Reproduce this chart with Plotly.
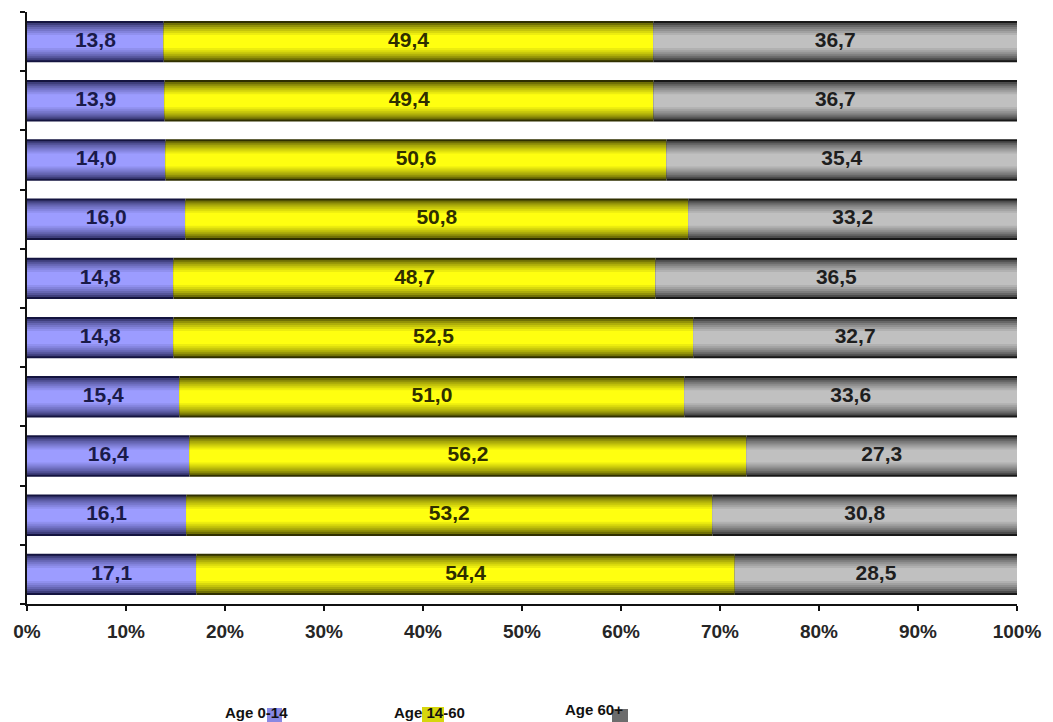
import plotly.graph_objects as go

# ---- data (top row first) ----
rows = list(range(10))
age_0_14 = [13.8, 13.9, 14.0, 16.0, 14.8, 14.8, 15.4, 16.4, 16.1, 17.1]
age_14_60 = [49.4, 49.4, 50.6, 50.8, 48.7, 52.5, 51.0, 56.2, 53.2, 54.4]
age_60_plus = [36.7, 36.7, 35.4, 33.2, 36.5, 32.7, 33.6, 27.3, 30.8, 28.5]
series_names = ["Age 0-14", "Age 14-60", "Age 60+"]
x_ticks = [0, 10, 20, 30, 40, 50, 60, 70, 80, 90, 100]

W, H = 1053, 722
L, R, T, B = 27, 36, 12, 118

# colour ramps: edge -> centre
ramps = [
    ((0x14, 0x14, 0x40), (0x9c, 0x9c, 0xff)),
    ((0x30, 0x30, 0x00), (0xff, 0xff, 0x10)),
    ((0x18, 0x18, 0x18), (0xc0, 0xc0, 0xc0)),
]
label_colors = ["#1a1a48", "#2e2e00", "#1e1e1e"]

series = [age_0_14, age_14_60, age_60_plus]
totals = [a + b + c for a, b, c in zip(*series)]
norm = [[v * 100.0 / t for v, t in zip(s, totals)] for s in series]
bases = []
run = [0.0] * len(rows)
for s in norm:
    bases.append(run[:])
    run = [r + v for r, v in zip(run, s)]


def lerp(c0, c1, f):
    return "rgb(%d,%d,%d)" % tuple(round(a + (b - a) * f) for a, b in zip(c0, c1))


fig = go.Figure()
N = 8
w_out, w_in = 0.70, 0.22
for si, s in enumerate(norm):
    c_edge, c_mid = ramps[si]
    for k in range(N):
        f = k / (N - 1)
        w = w_out - (w_out - w_in) * f
        col = lerp(c_edge, c_mid, f ** 0.6 if k > 0 else 0.0)
        fig.add_trace(go.Bar(
            x=s, y=rows, base=bases[si], orientation="h",
            width=w, marker=dict(color=col, line=dict(width=0)),
            name=series_names[si], showlegend=False,
            hoverinfo="skip" if k < N - 1 else None,
        ))

# value labels
for si, s in enumerate(norm):
    fig.add_trace(go.Scatter(
        x=[b + v / 2 for b, v in zip(bases[si], s)], y=rows, mode="text",
        text=["<b>%s</b>" % ("%.1f" % v).replace(".", ",") for v in series[si]],
        textfont=dict(family="Arial, Liberation Sans", size=21, color=label_colors[si]),
        textposition="middle center", showlegend=False, hoverinfo="skip",
    ))

fig.update_layout(
    width=W, height=H, barmode="overlay",
    margin=dict(l=L, r=R, t=T, b=B),
    plot_bgcolor="white", paper_bgcolor="white",
    font=dict(family="Arial, Liberation Sans", color="#222"),
)
fig.update_xaxes(
    range=[0, 100], tickvals=x_ticks, ticktext=["<b>%d%%</b>" % v for v in x_ticks],
    showgrid=False, zeroline=False, showline=True, linecolor="#111", linewidth=1.5,
    ticks="outside", ticklen=5, tickcolor="#111", tickwidth=1.5,
    tickfont=dict(size=19, color="#262626"), ticklabelstandoff=4,
)
fig.update_yaxes(
    range=[9.5, -0.5], tickvals=[i - 0.5 for i in range(11)], showticklabels=False,
    showgrid=False, zeroline=False, showline=True, linecolor="#111", linewidth=1.5,
    ticks="outside", ticklen=5, tickcolor="#111", tickwidth=1.5,
)


def pxx(p):
    return (p - L) / (W - L - R)


def pxy(p):
    return (H - B - p) / (H - T - B)


# manual legend (swatches sit behind the text, as in the reference)
legend_items = [
    (series_names[0], 256, 712, (267, 708, 282, 722), ramps[0], 0.85),
    (series_names[1], 429, 712, (422, 707, 444, 722), ramps[1], 0.8),
    (series_names[2], 594, 709, (612, 709, 628, 722), ramps[2], 0.5),
]
for name, tx, ty, (x0, y0, x1, y1), (ce, cm), f in legend_items:
    fig.add_shape(type="rect", xref="paper", yref="paper",
                  x0=pxx(x0), x1=pxx(x1), y0=pxy(y1), y1=pxy(y0),
                  fillcolor=lerp(ce, cm, f), line=dict(width=0), layer="above")
    fig.add_annotation(xref="paper", yref="paper", x=pxx(tx), y=pxy(ty),
                       text="<b>%s</b>" % name, showarrow=False,
                       font=dict(size=15, color="#111"), xanchor="center", yanchor="middle")

fig.write_html("out.html")
